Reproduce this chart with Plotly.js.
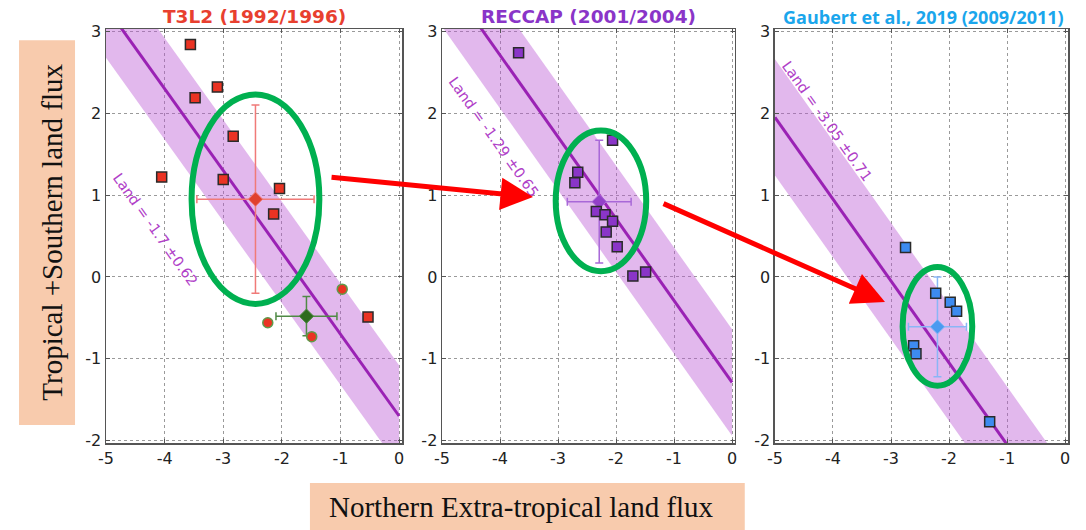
<!DOCTYPE html>
<html><head><meta charset="utf-8">
<script src="https://cdn.plot.ly/plotly-3.0.1.min.js"></script>
<style>html,body{margin:0;padding:0;background:#fff}</style>
</head><body><div id="chart" style="width:1086px;height:530px"></div>
<script>
// ---- Data ----
const panelTitles = ["T3L2 (1992/1996)", "RECCAP (2001/2004)", "Gaubert et al., 2019 (2009/2011)"];
const landMean = [-1.7, -1.29, -3.05];
const landSd = [0.62, 0.65, 0.71];
const landLabels = ["Land = -1.7 ±0.62", "Land = -1.29 ±0.65", "Land = -3.05 ±0.71"];

const t3l2X = [-3.56, -3.10, -3.48, -2.83, -4.05, -3.00, -2.04, -2.14, -0.53];
const t3l2Y = [2.84, 2.32, 2.19, 1.72, 1.22, 1.19, 1.08, 0.77, -0.49];
const t3l2MeanX = [-2.45], t3l2MeanY = [0.95], t3l2ErrX = [1.0], t3l2ErrY = [1.15];
const t3l2CircX = [-0.97, -2.24, -1.49];
const t3l2CircY = [-0.15, -0.56, -0.73];
const t3l2CircMeanX = [-1.58], t3l2CircMeanY = [-0.48], t3l2CircErrX = [0.52], t3l2CircErrY = [0.24];

const reccapX = [-3.68, -2.06, -2.66, -2.71, -2.34, -2.19, -2.06, -2.17, -1.98, -1.71, -1.49];
const reccapY = [2.74, 1.67, 1.28, 1.15, 0.80, 0.76, 0.68, 0.55, 0.37, 0.01, 0.06];
const reccapMeanX = [-2.29], reccapMeanY = [0.92], reccapErrX = [0.55], reccapErrY = [0.75];

const gaubertX = [-2.75, -2.23, -1.98, -1.87, -2.61, -2.57, -1.30];
const gaubertY = [0.36, -0.20, -0.31, -0.42, -0.84, -0.94, -1.77];
const gaubertMeanX = [-2.20], gaubertMeanY = [-0.61], gaubertErrX = [0.5], gaubertErrY = [0.61];

const ticksX = [-5, -4, -3, -2, -1, 0];
const ticksY = [-2, -1, 0, 1, 2, 3];

// ---- Styles ----
const bandFill = 'rgba(186,85,211,0.42)';
const lineCol = '#9a22b4';
const labelCol = '#b040c8';
const axIds = ['', '2', '3'];
const traces = [];

for (let i = 0; i < 3; i++) {
  const xs = [-5, 0];
  const up = xs.map(x => landMean[i] - x + landSd[i]);
  const lo = xs.map(x => landMean[i] - x - landSd[i]);
  traces.push({
    x: [xs[0], xs[1], xs[1], xs[0]], y: [up[0], up[1], lo[1], lo[0]],
    xaxis: 'x' + axIds[i], yaxis: 'y' + axIds[i],
    mode: 'lines', fill: 'toself', fillcolor: bandFill, line: {width: 0}, hoverinfo: 'skip', showlegend: false
  });
  traces.push({
    x: xs, y: xs.map(x => landMean[i] - x),
    xaxis: 'x' + axIds[i], yaxis: 'y' + axIds[i],
    mode: 'lines', line: {color: lineCol, width: 3}, showlegend: false
  });
}

function sq(x, y, ax, color) {
  return {x, y, xaxis: 'x' + ax, yaxis: 'y' + ax, mode: 'markers', showlegend: false,
    marker: {symbol: 'square', size: 10, color, line: {color: '#2a2a2a', width: 1.5}}};
}
function meanPt(x, y, ex, ey, ax, color, errColor) {
  return {x, y, xaxis: 'x' + ax, yaxis: 'y' + ax, mode: 'markers', showlegend: false,
    marker: {symbol: 'diamond', size: 11, color, line: {color: errColor, width: 1}},
    error_x: {type: 'data', array: ex, color: errColor, thickness: 1.5, width: 4},
    error_y: {type: 'data', array: ey, color: errColor, thickness: 1.5, width: 4}};
}

traces.push(meanPt(t3l2MeanX, t3l2MeanY, t3l2ErrX, t3l2ErrY, '', '#e0402e', '#f07a78'));
traces.push(meanPt(t3l2CircMeanX, t3l2CircMeanY, t3l2CircErrX, t3l2CircErrY, '', '#2e6b1e', '#4f8a45'));
traces.push(sq(t3l2X, t3l2Y, '', '#ea3323'));
traces.push({x: t3l2CircX, y: t3l2CircY, xaxis: 'x', yaxis: 'y', mode: 'markers', showlegend: false,
  marker: {symbol: 'circle', size: 10, color: '#ea3323', line: {color: '#5f9a4a', width: 1.5}}});

traces.push(meanPt(reccapMeanX, reccapMeanY, reccapErrX, reccapErrY, '2', '#9340c8', '#a868d8'));
traces.push(sq(reccapX, reccapY, '2', '#8a35c8'));

traces.push(meanPt(gaubertMeanX, gaubertMeanY, gaubertErrX, gaubertErrY, '3', '#4a9af0', '#8ab6f6'));
traces.push(sq(gaubertX, gaubertY, '3', '#3d8bf0'));

// ---- Layout ----
const domains = [[0, 0.3077], [0.3493, 0.6538], [0.6954, 1]];
const layout = {
  width: 1086, height: 530,
  margin: {l: 106, r: 18, t: 29, b: 87},
  paper_bgcolor: '#fff', plot_bgcolor: '#fff',
  font: {family: 'DejaVu Sans', size: 16, color: '#222'},
  showlegend: false,
  shapes: [], annotations: []
};
for (let i = 0; i < 3; i++) {
  const common = {showgrid: true, gridcolor: '#9a9a9a', griddash: 'dot', gridwidth: 1,
    showline: true, linecolor: '#555', linewidth: 1.5, mirror: 'allticks', ticks: 'inside', ticklen: 4,
    tickcolor: '#555', zeroline: false, tickfont: {family: 'DejaVu Sans', size: 16, color: '#222'}, fixedrange: true};
  layout['xaxis' + axIds[i]] = Object.assign({}, common, {domain: domains[i], range: [-5, 0.05],
    tickvals: ticksX, ticktext: ticksX.map(String), anchor: 'y' + axIds[i]});
  layout['yaxis' + axIds[i]] = Object.assign({}, common, {domain: [0, 1], range: [-2.03, 3.03],
    tickvals: ticksY, ticktext: ticksY.map(String), anchor: 'x' + axIds[i], ticksuffix: ' '});
}

const titleX = [0.154, 0.5016, 0.850];
const titleCol = ['#e8402f', '#8a35c8', '#1aa6ec'];
const titleFont = ['DejaVu Sans', 'DejaVu Sans', 'Open Sans'];
const titleSize = [18.5, 18.5, 18];
for (let i = 0; i < 3; i++) {
  layout.annotations.push({xref: 'paper', yref: 'paper', x: titleX[i], y: 1.029, showarrow: false,
    text: '<b>' + panelTitles[i] + '</b>', font: {family: titleFont[i], size: titleSize[i], color: titleCol[i]},
    xanchor: 'center', yanchor: 'middle'});
}

const labelPos = [[-4.17, 0.58], [-4.11, 1.71], [-4.11, 1.90]];
for (let i = 0; i < 3; i++) {
  layout.annotations.push({xref: 'x' + axIds[i], yref: 'y' + axIds[i], x: labelPos[i][0], y: labelPos[i][1],
    showarrow: false, text: landLabels[i], textangle: 54.5,
    font: {family: 'DejaVu Sans', size: 14.5, color: labelCol}});
}

const ell = [[-3.54, -1.36, -0.33, 2.23], [-3.04, -1.48, 0.07, 1.79], [-2.80, -1.60, -1.33, 0.12]];
for (let i = 0; i < 3; i++) {
  layout.shapes.push({type: 'circle', xref: 'x' + axIds[i], yref: 'y' + axIds[i],
    x0: ell[i][0], x1: ell[i][1], y0: ell[i][2], y1: ell[i][3], line: {color: '#00b050', width: 6}});
}

layout.shapes.push({type: 'rect', xref: 'paper', yref: 'paper', x0: -0.0904, x1: -0.0322, y0: 0.0435, y1: 0.973,
  fillcolor: '#f8cbad', line: {width: 0}, layer: 'below'});
layout.shapes.push({type: 'rect', xref: 'paper', yref: 'paper', x0: 0.212, x1: 0.664, y0: -0.21, y1: -0.0966,
  fillcolor: '#f8cbad', line: {width: 0}, layer: 'below'});
layout.annotations.push({xref: 'paper', yref: 'paper', x: -0.075, y: 0.51, showarrow: false, textangle: -90,
  text: 'Tropical +Southern land flux', font: {family: 'Liberation Serif', size: 29, color: '#111'}});
layout.annotations.push({xref: 'paper', yref: 'paper', x: 0.4324, y: -0.197, showarrow: false,
  text: 'Northern Extra-tropical land flux', font: {family: 'Liberation Serif', size: 29, color: '#111'}});

layout.annotations.push({xref: 'paper', yref: 'paper', x: 0.4439, y: 0.5942, ax: -203, ay: -20, text: '',
  showarrow: true, arrowhead: 2, arrowsize: 1.3, arrowwidth: 5, arrowcolor: '#ff0000'});
layout.annotations.push({xref: 'paper', yref: 'paper', x: 0.8098, y: 0.3406, ax: -223, ay: -99, text: '',
  showarrow: true, arrowhead: 2, arrowsize: 1.3, arrowwidth: 5, arrowcolor: '#ff0000'});

Plotly.newPlot('chart', traces, layout, {staticPlot: true});
</script></body></html>
